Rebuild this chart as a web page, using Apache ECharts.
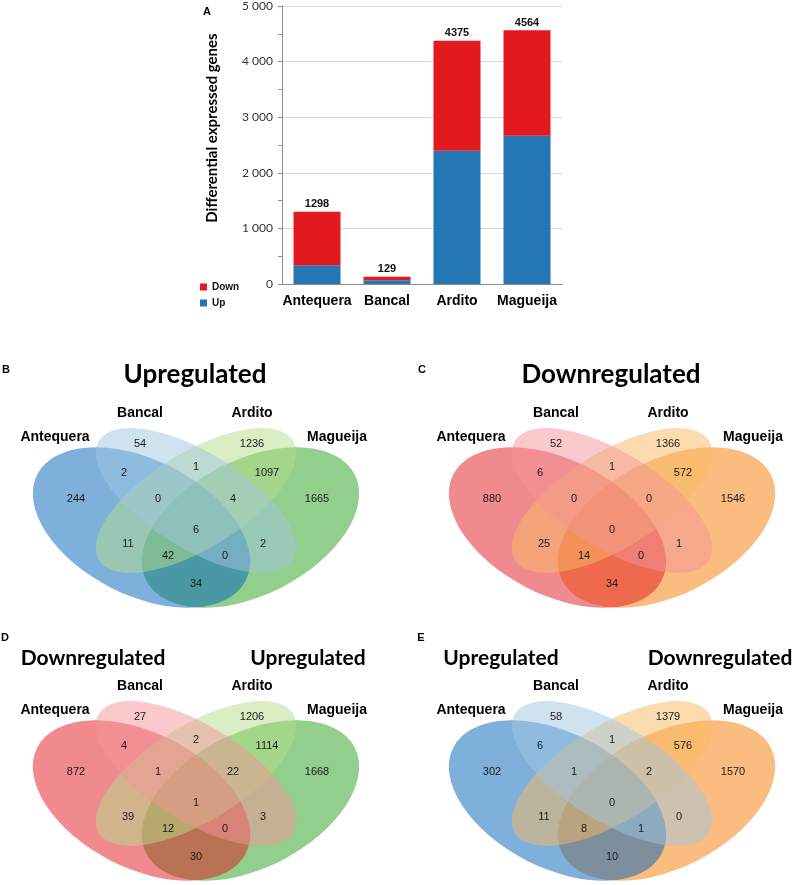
<!DOCTYPE html>
<html><head><meta charset="utf-8">
<script src="https://cdn.jsdelivr.net/npm/echarts@6/dist/echarts.min.js"></script>
<style>html,body{margin:0;padding:0;background:#fff}#c{width:792px;height:885px}</style>
</head><body><div id="c"></div>
<script>
// ---------- DATA ----------
const cultivars = ['Antequera', 'Bancal', 'Ardito', 'Magueija'];
const upValues = [339, 69, 2397, 2665];
const downValues = [959, 60, 1978, 1899];
const totalLabels = [1298, 129, 4375, 4564];
const yAxisTitle = 'Differential expressed genes';

const setNames = ['Antequera', 'Bancal', 'Ardito', 'Magueija'];
// region order: A, B, C, D, AB, BC, CD, ABC, BCD, ABCD, AC, BD, ACD, ABD, AD
const countsB = [244, 54, 1236, 1665, 2, 1, 1097, 0, 4, 6, 11, 2, 42, 0, 34];
const countsC = [880, 52, 1366, 1546, 6, 1, 572, 0, 0, 0, 25, 1, 14, 0, 34];
const countsD = [872, 27, 1206, 1668, 4, 2, 1114, 1, 22, 1, 39, 3, 12, 0, 30];
const countsE = [302, 58, 1379, 1570, 6, 1, 576, 1, 2, 0, 11, 0, 8, 1, 10];
const titlesB = ['Upregulated'];
const titlesC = ['Downregulated'];
const titlesD = ['Downregulated', 'Upregulated'];
const titlesE = ['Upregulated', 'Downregulated'];

// ---------- LAYOUT (4-ellipse Venn template, local px units) ----------
const VENN_ELLIPSES = [ // cx, cy, semi-major, semi-minor, clockwise tilt (deg)
  [141.5, 127.5, 117, 67.5, 27],
  [196, 100.5, 114, 48, 31.6],
  [196, 100.5, 114, 48, -31.6],
  [250.5, 127.5, 117, 67.5, -27]
];
const DRAW_ORDER = [3, 0, 2, 1];
const REGION_ANCHORS = [[76,99],[140,44],[252,44],[317,99],[124,73],[196,67],[267,73],
  [158,99],[233,99],[196,130],[128,144],[263,144],[168,156],[225,156],[196,184]];
const SET_ANCHORS = [[55,37],[140,13],[252,13],[337,37]];
const VW = 376, VH = 210;

const PAL = {
  blueA: 'rgba(0,97,185,0.5)', blueB: 'rgba(159,197,223,0.5)',
  greenC: 'rgba(179,221,137,0.5)', greenD: 'rgba(39,159,25,0.5)',
  redA: 'rgba(225,21,29,0.5)', redB: 'rgba(243,147,151,0.5)',
  orangeC: 'rgba(247,185,97,0.5)', orangeD: 'rgba(247,123,0,0.5)'
};
const venns = [
  {left: 0, top: 400, counts: countsB, colors: [PAL.blueA, PAL.blueB, PAL.greenC, PAL.greenD]},
  {left: 416, top: 400, counts: countsC, colors: [PAL.redA, PAL.redB, PAL.orangeC, PAL.orangeD]},
  {left: 0, top: 673, counts: countsD, colors: [PAL.redA, PAL.redB, PAL.greenC, PAL.greenD]},
  {left: 416, top: 673, counts: countsE, colors: [PAL.blueA, PAL.blueB, PAL.orangeC, PAL.orangeD]}
];

const SANS = 'Liberation Sans, Arial, sans-serif';
const TITLE_FONT = 'Lato, Open Sans, sans-serif';

const grids = [{left: 282, top: 6, width: 280, height: 278}];
const xAxes = [{
  type: 'category', gridIndex: 0, data: cultivars,
  axisLine: {lineStyle: {color: '#8c8c8c'}}, axisTick: {show: false},
  axisLabel: {interval: 0, fontSize: 14, fontWeight: 'bold', color: '#000', margin: 10, fontFamily: SANS}
}];
const yAxes = [{
  type: 'value', gridIndex: 0, min: 0, max: 5000, interval: 1000,
  axisLine: {show: true, lineStyle: {color: '#8c8c8c'}},
  axisTick: {show: true, length: 4, lineStyle: {color: '#8c8c8c'}},
  minorTick: {show: true, splitNumber: 2, length: 4, lineStyle: {color: '#8c8c8c'}},
  splitLine: {lineStyle: {color: '#dadada'}},
  axisLabel: {fontSize: 12, color: '#333', margin: 9, fontFamily: TITLE_FONT,
    formatter: v => String(v).replace(/\B(?=(\d{3})+(?!\d))/g, ' ')}
}];
const series = [
  {type: 'bar', name: 'Up', stack: 'total', data: upValues, barWidth: 47,
   xAxisIndex: 0, yAxisIndex: 0, itemStyle: {color: '#2476b5'}},
  {type: 'bar', name: 'Down', stack: 'total', data: downValues, barWidth: 47,
   xAxisIndex: 0, yAxisIndex: 0, itemStyle: {color: '#e2191f'},
   label: {show: true, position: 'top', distance: 2, fontSize: 11, fontWeight: 'bold',
     color: '#111', fontFamily: SANS, formatter: p => totalLabels[p.dataIndex]}}
];

venns.forEach((v, k) => {
  const gi = k + 1;
  grids.push({left: v.left, top: v.top, width: VW, height: VH});
  xAxes.push({type: 'value', gridIndex: gi, min: 0, max: VW, show: false});
  yAxes.push({type: 'value', gridIndex: gi, min: 0, max: VH, inverse: true, show: false});
  series.push({
    type: 'custom', xAxisIndex: gi, yAxisIndex: gi, silent: true, z: 1,
    data: DRAW_ORDER.map(i => [VENN_ELLIPSES[i][0], VENN_ELLIPSES[i][1], i]),
    renderItem: (params, api) => {
      const idx = api.value(2);
      const e = VENN_ELLIPSES[idx];
      const c = api.coord([e[0], e[1]]);
      const s = api.size([e[2], e[3]]);
      return {
        type: 'circle', x: c[0], y: c[1],
        rotation: -e[4] * Math.PI / 180, scaleX: s[0], scaleY: s[1],
        shape: {cx: 0, cy: 0, r: 1},
        style: {fill: v.colors[idx]}
      };
    }
  });
  series.push({
    type: 'scatter', xAxisIndex: gi, yAxisIndex: gi, silent: true, z: 5,
    symbolSize: 1, itemStyle: {color: 'rgba(0,0,0,0)'},
    data: REGION_ANCHORS.map((p, i) => [p[0], p[1], v.counts[i]]),
    label: {show: true, position: 'inside', formatter: p => String(p.value[2]),
      fontSize: 11, color: '#1a1a1a', textBorderWidth: 0, opacity: 1, fontFamily: SANS}
  });
  series.push({
    type: 'scatter', xAxisIndex: gi, yAxisIndex: gi, silent: true, z: 5,
    symbolSize: 1, itemStyle: {color: 'rgba(0,0,0,0)'},
    data: SET_ANCHORS.map((p, i) => [p[0], p[1], setNames[i]]),
    label: {show: true, position: 'inside', formatter: p => p.value[2],
      fontSize: 14, fontWeight: 'bold', color: '#000', textBorderWidth: 0, opacity: 1, fontFamily: SANS}
  });
});

function txt(text, x, y, size, font, extra) {
  return Object.assign({type: 'text', x: x, y: y, silent: true, z: 10,
    style: {text: text, fontSize: size, fontWeight: 'bold', fontFamily: font,
      fill: '#000', align: 'center', verticalAlign: 'middle'}}, extra || {});
}
const graphics = [
  txt('A', 207, 12, 11, SANS),
  txt('B', 6, 370, 11, SANS),
  txt('C', 422, 370, 11, SANS),
  txt('D', 5, 638, 11, SANS),
  txt('E', 421, 638, 11, SANS),
  txt(yAxisTitle, 212, 128, 15, TITLE_FONT, {rotation: Math.PI / 2}),
  txt(titlesB[0], 195, 375, 26, TITLE_FONT),
  txt(titlesC[0], 611, 375, 26, TITLE_FONT),
  txt(titlesD[0], 93, 658, 21, TITLE_FONT),
  txt(titlesD[1], 308, 658, 21, TITLE_FONT),
  txt(titlesE[0], 501, 658, 21, TITLE_FONT),
  txt(titlesE[1], 720, 658, 21, TITLE_FONT)
];

const chart = echarts.init(document.getElementById('c'), null, {renderer: 'canvas'});
chart.setOption({
  animation: false,
  backgroundColor: '#fff',
  grid: grids, xAxis: xAxes, yAxis: yAxes, series: series,
  legend: {data: ['Down', 'Up'], orient: 'vertical', left: 195, top: 277,
    itemWidth: 7, itemHeight: 7, itemGap: 6, icon: 'rect',
    textStyle: {fontSize: 10, fontWeight: 'bold', color: '#111', fontFamily: SANS}},
  graphic: graphics
});
</script></body></html>
